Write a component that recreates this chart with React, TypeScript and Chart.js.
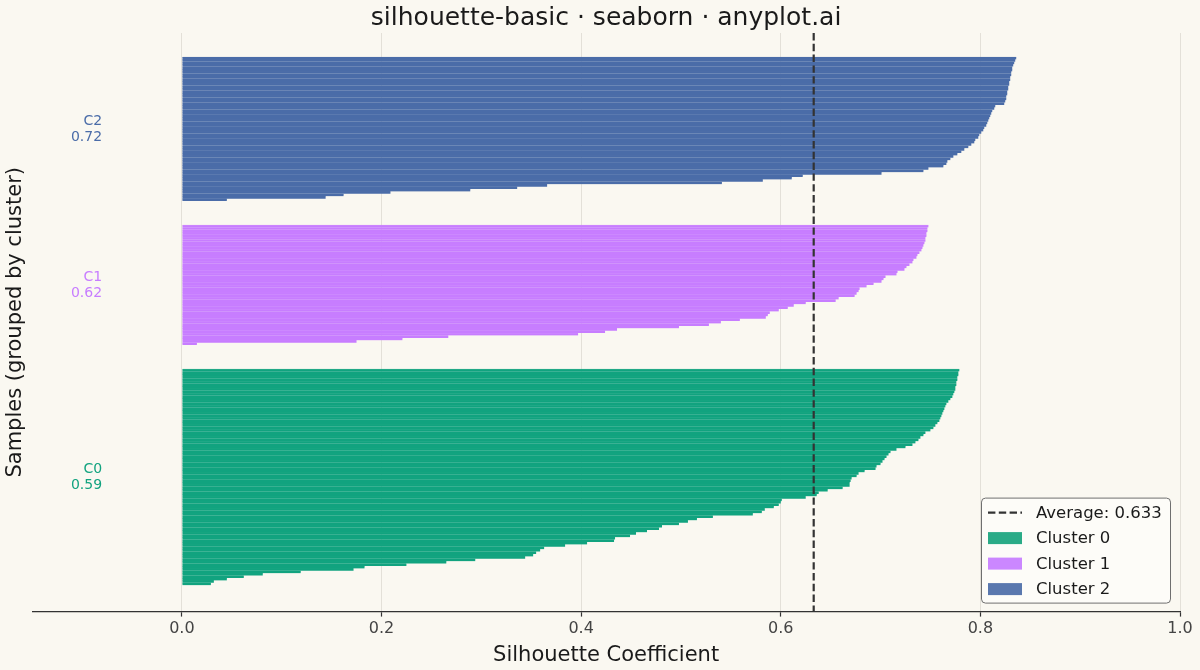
import React, { useEffect, useRef } from "react";
import Chart from "chart.js/auto";
import type { ChartConfiguration, Plugin } from "chart.js";

const TITLE = "silhouette-basic · seaborn · anyplot.ai";
const CLUSTER_NAMES = ["Cluster 0", "Cluster 1", "Cluster 2"];
const CLUSTER_TAGS = ["C0", "C1", "C2"];
const CLUSTER_MEANS = [0.59, 0.62, 0.72];
const AVERAGE_SCORE = 0.633;
const X_TICKS = [0, 0.2, 0.4, 0.6, 0.8, 1.0];

// silhouette values per sample, sorted ascending (drawn bottom -> top)
const CLUSTER_0 = [
    0.029, 0.032, 0.045, 0.062, 0.081, 0.119, 0.172, 0.183, 0.225, 0.265,
    0.294, 0.344, 0.352, 0.355, 0.359, 0.363, 0.384, 0.406, 0.433, 0.434,
    0.449, 0.455, 0.466, 0.478, 0.481, 0.498, 0.507, 0.516, 0.532, 0.572,
    0.581, 0.584, 0.593, 0.598, 0.6, 0.601, 0.625, 0.636, 0.638, 0.647,
    0.662, 0.669, 0.669, 0.67, 0.671, 0.676, 0.678, 0.684,
    0.695, 0.696, 0.7, 0.702, 0.704, 0.706, 0.708, 0.71, 0.716, 0.725,
    0.732, 0.735, 0.738, 0.74, 0.743, 0.745, 0.75, 0.753, 0.755, 0.757,
    0.759, 0.76, 0.761, 0.762, 0.763, 0.764, 0.765, 0.766, 0.768, 0.77,
    0.772, 0.773, 0.774, 0.775, 0.775, 0.776, 0.776, 0.777, 0.777, 0.778,
    0.778, 0.779,
];

const CLUSTER_1 = [
    0.015, 0.175, 0.221, 0.267, 0.397, 0.424, 0.436, 0.498, 0.528, 0.54,
    0.559, 0.585, 0.587, 0.589, 0.598, 0.607, 0.613, 0.625, 0.655, 0.658,
    0.674, 0.676, 0.678, 0.679, 0.686, 0.693, 0.701, 0.703, 0.705, 0.716,
    0.717, 0.724, 0.726, 0.729, 0.732, 0.733, 0.736, 0.737, 0.739, 0.741,
    0.742, 0.743, 0.744, 0.745, 0.745, 0.746, 0.746, 0.747, 0.747, 0.748,
];

const CLUSTER_2 = [
    0.045, 0.144, 0.162, 0.209, 0.289, 0.336, 0.366, 0.541, 0.582, 0.611,
    0.622, 0.701, 0.743, 0.748, 0.763, 0.766, 0.767, 0.77, 0.773, 0.777,
    0.781, 0.784, 0.788, 0.791, 0.794, 0.795, 0.798, 0.799, 0.801, 0.803,
    0.804, 0.806, 0.807, 0.808, 0.809, 0.81, 0.811, 0.812, 0.814, 0.815,
    0.824, 0.825, 0.826, 0.826, 0.827, 0.827, 0.828, 0.828, 0.829, 0.829,
    0.83, 0.83, 0.831, 0.831, 0.832, 0.832, 0.833, 0.834, 0.835, 0.836,
];

const BAR_COLORS = ["#11a37f", "#c77dff", "#4a6ca8"];
const STRIPE_COLORS = ["#1ea885", "#ca84ff", "#5272aa"];
const PATCH_COLORS = ["#2aab87", "#cb87ff", "#5a78ae"];
const BG = "#faf8f1";
const FONT = "'DejaVu Sans', sans-serif";

const BOTTOM_ROWS = 11;
const GAP_ROWS = 10;
const TOP_ROWS = 10;

const clusters = [CLUSTER_0, CLUSTER_1, CLUSTER_2];
const starts: number[] = [];
let cursor = BOTTOM_ROWS;
clusters.forEach((vals, i) => {
    starts.push(cursor);
    cursor += vals.length + (i < clusters.length - 1 ? GAP_ROWS : 0);
});
const ROW_COUNT = cursor + TOP_ROWS;

const backgroundPlugin: Plugin = {
    id: "bg",
    beforeDraw(chart) {
        const ctx = chart.ctx;
        ctx.save();
        ctx.fillStyle = BG;
        ctx.fillRect(0, 0, chart.width, chart.height);
        ctx.restore();
    },
};

const overlayPlugin: Plugin = {
    id: "overlay",
    afterDatasetsDraw(chart) {
        const { ctx, chartArea } = chart;
        const x = chart.scales.x;
        const y = chart.scales.y;

        // average line
        const ax = x.getPixelForValue(AVERAGE_SCORE);
        ctx.save();
        ctx.strokeStyle = "#333333";
        ctx.lineWidth = 2.2;
        ctx.setLineDash([7.4, 3.4]);
        ctx.beginPath();
        ctx.moveTo(ax, chartArea.top);
        ctx.lineTo(ax, chartArea.bottom);
        ctx.stroke();
        ctx.restore();

        // cluster tags on the left
        ctx.save();
        ctx.font = `14px ${FONT}`;
        ctx.textAlign = "right";
        ctx.textBaseline = "middle";
        const lx = x.getPixelForValue(-0.08);
        clusters.forEach((vals, c) => {
            const y0 = y.getPixelForValue(starts[c]);
            const y1 = y.getPixelForValue(starts[c] + vals.length - 1);
            const mid = (y0 + y1) / 2;
            ctx.fillStyle = BAR_COLORS[c];
            ctx.fillText(CLUSTER_TAGS[c], lx, mid - 8);
            ctx.fillText(CLUSTER_MEANS[c].toFixed(2), lx, mid + 8);
        });
        ctx.restore();
    },
    afterDraw(chart) {
        const { ctx, chartArea } = chart;

        // title centred over the axes
        ctx.save();
        ctx.font = `25px ${FONT}`;
        ctx.fillStyle = "#1a1a1a";
        ctx.textAlign = "center";
        ctx.textBaseline = "middle";
        ctx.fillText(TITLE, (chartArea.left + chartArea.right) / 2, 18);
        ctx.restore();

        // legend box
        const w = 189;
        const h = 105;
        const left = chartArea.right - 10 - w;
        const top = chartArea.bottom - 9 - h;
        ctx.save();
        ctx.beginPath();
        ctx.roundRect(left + 0.5, top + 0.5, w, h, 4);
        ctx.fillStyle = "rgba(253,252,248,0.9)";
        ctx.fill();
        ctx.strokeStyle = "#6f6f6f";
        ctx.lineWidth = 1;
        ctx.stroke();

        ctx.font = `16.5px ${FONT}`;
        ctx.textBaseline = "middle";
        ctx.textAlign = "left";
        const rowY = (i: number) => top + 15 + i * 25.5;

        ctx.strokeStyle = "#333333";
        ctx.lineWidth = 2.2;
        ctx.setLineDash([7.4, 3.4]);
        ctx.beginPath();
        ctx.moveTo(left + 7, rowY(0));
        ctx.lineTo(left + 41, rowY(0));
        ctx.stroke();
        ctx.setLineDash([]);
        ctx.fillStyle = "#1a1a1a";
        ctx.fillText(`Average: ${AVERAGE_SCORE.toFixed(3)}`, left + 55, rowY(0) + 1);

        CLUSTER_NAMES.forEach((name, c) => {
            const cy = rowY(c + 1);
            ctx.fillStyle = PATCH_COLORS[c];
            ctx.fillRect(left + 7, cy - 6, 34, 12);
            ctx.fillStyle = "#1a1a1a";
            ctx.fillText(name, left + 55, cy + 1);
        });
        ctx.restore();
    },
};

export default function App() {
    const canvasRef = useRef<HTMLCanvasElement | null>(null);

    useEffect(() => {
        document.body.style.margin = "0";
        document.body.style.background = BG;
        const canvas = canvasRef.current;
        if (!canvas) return;

        const labels = Array.from({ length: ROW_COUNT }, (_, i) => String(i));
        const datasets = clusters.map((vals, c) => {
            const data: (number | null)[] = new Array(ROW_COUNT).fill(null);
            vals.forEach((v, k) => {
                data[starts[c] + k] = v;
            });
            return {
                label: CLUSTER_NAMES[c],
                data,
                backgroundColor: BAR_COLORS[c],
                borderColor: STRIPE_COLORS[c],
                borderWidth: { top: 0.4, right: 0, bottom: 0, left: 0 },
                borderSkipped: false as const,
                barPercentage: 1,
                categoryPercentage: 1,
                grouped: false,
            };
        });

        const config: ChartConfiguration<"bar"> = {
            type: "bar",
            data: { labels, datasets },
            options: {
                indexAxis: "y",
                responsive: true,
                maintainAspectRatio: false,
                animation: false,
                layout: { padding: { top: 33, right: 20, bottom: 0, left: 0 } },
                plugins: {
                    legend: { display: false },
                    tooltip: { enabled: false },
                    title: { display: false },
                },
                scales: {
                    x: {
                        type: "linear",
                        min: -0.15,
                        max: 1.0,
                        afterBuildTicks: (axis) => {
                            axis.ticks = X_TICKS.map((value) => ({ value }));
                        },
                        grid: {
                            color: "#e3e0d8",
                            lineWidth: 1,
                            tickColor: "#333333",
                            tickLength: 5,
                            tickWidth: 1.2,
                        },
                        border: { display: true, color: "#333333", width: 1.3 },
                        ticks: {
                            color: "#444444",
                            padding: 3,
                            font: { family: FONT, size: 16 },
                            callback: (v) => Number(v).toFixed(1),
                        },
                        title: {
                            display: true,
                            text: "Silhouette Coefficient",
                            color: "#1a1a1a",
                            font: { family: FONT, size: 21 },
                            padding: { top: 1, bottom: 2 },
                        },
                    },
                    y: {
                        type: "category",
                        reverse: true,
                        grid: { display: false, drawTicks: false },
                        border: { display: false },
                        ticks: { display: false },
                        title: {
                            display: true,
                            text: "Samples (grouped by cluster)",
                            color: "#1a1a1a",
                            font: { family: FONT, size: 21 },
                            padding: { top: 3, bottom: 4 },
                        },
                    },
                },
            },
            plugins: [backgroundPlugin, overlayPlugin],
        };

        const chart = new Chart(canvas, config);
        return () => {
            chart.destroy();
        };
    }, []);

    return (
        <div style={{ width: 1200, height: 670, position: "relative", background: BG }}>
            <canvas ref={canvasRef} />
        </div>
    );
}
